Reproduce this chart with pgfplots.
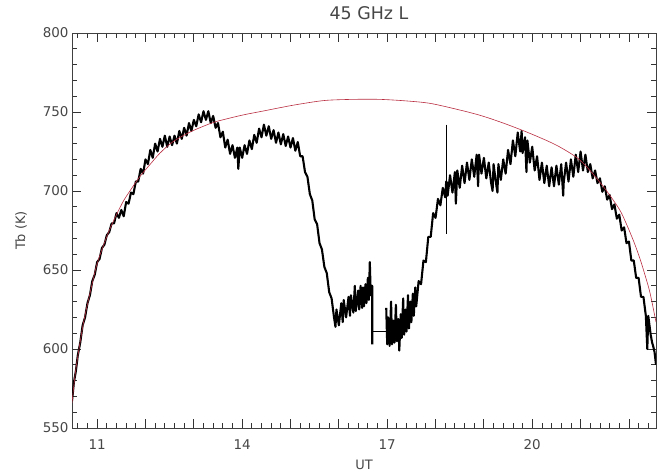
\documentclass[border=0pt]{standalone}
\usepackage{fontspec}
\setmainfont{DejaVu Sans}
\usepackage{pgfplots}
\pgfplotsset{compat=1.18}
\definecolor{fitred}{RGB}{185,45,65}
\definecolor{txt}{RGB}{70,70,70}
\begin{document}
\begin{tikzpicture}
\useasboundingbox (-72bp,-46bp) rectangle (587bp,428bp);
\begin{axis}[
  at={(0,0)}, anchor=south west,
  scale only axis, width=584bp, height=395bp,
  xmin=10.48, xmax=22.56, ymin=550, ymax=800,
  xtick={11,12,13,14,15,16,17,18,19,20,21,22},
  xticklabels={11,,,14,,,17,,,20,,},
  minor xtick={10.6,10.8,11.2,11.4,11.6,11.8,12.2,12.4,12.6,12.8,13.2,13.4,13.6,13.8,14.2,14.4,14.6,14.8,15.2,15.4,15.6,15.8,16.2,16.4,16.6,16.8,17.2,17.4,17.6,17.8,18.2,18.4,18.6,18.8,19.2,19.4,19.6,19.8,20.2,20.4,20.6,20.8,21.2,21.4,21.6,21.8,22.2,22.4},
  ytick={550,600,650,700,750,800},
  minor ytick={560,570,580,590,610,620,630,640,660,670,680,690,710,720,730,740,760,770,780,790},
  tick align=inside,
  major tick length=9bp, minor tick length=5bp,
  axis line style={black!75, line width=0.8bp},
  tick style={black!80, line width=0.8bp},
  /pgf/number format/assume math mode=true,
  tick label style={font=\fontsize{13.5}{16}\selectfont, text=txt},
  xticklabel style={yshift=-8bp},
  title={45 GHz L},
  title style={at={(axis description cs:0.5,1)}, anchor=center, yshift=14bp, xshift=5bp, font=\fontsize{17.5}{19}\selectfont, text=txt},
  xlabel={UT},
  xlabel style={at={(axis description cs:0.5,-0.094)}, anchor=center, font=\fontsize{13}{15}\selectfont, text=txt},
  ylabel={Tb (K)},
  ylabel style={at={(axis description cs:-0.0873,0.5)}, anchor=center, font=\fontsize{13}{15}\selectfont, text=txt},
]
% observed brightness temperature (noisy)
\addplot[black, line width=2.1pt, line join=round, mark=none] coordinates {
(10.48,567)(10.52,579)(10.56,586)(10.60,596)(10.65,604)(10.70,615)(10.75,620)(10.80,629)(10.85,634)(10.90,643)
(10.95,647)(11.00,655)(11.05,657)(11.10,664)(11.15,666)(11.20,672)(11.25,674)(11.30,679.5)(11.35,679.5)(11.40,686)
(11.45,683)(11.50,688)(11.55,684)(11.60,693)(11.65,692)(11.70,699)(11.75,698)(11.80,706)(11.85,706)(11.90,714)
(11.95,711)(12.00,720)(12.05,717)(12.10,726)(12.15,721)(12.20,730)(12.25,725)(12.30,733)(12.35,728)(12.40,735)
(12.45,728)(12.50,734.5)(12.55,729)(12.60,735)(12.65,730)(12.70,738)(12.75,733)(12.80,740)(12.85,735)(12.90,743)
(12.95,738)(13.00,745)(13.05,741)(13.10,748.5)(13.15,743.5)(13.20,750.5)(13.25,745)(13.30,750.5)(13.35,743)(13.40,747.5)
(13.45,740)(13.50,743)(13.55,734)(13.60,737.5)(13.65,727.5)(13.70,732.5)(13.75,723.5)(13.80,729)(13.85,721)(13.90,727.5)
(13.92,714)(13.95,727.5)(14.00,721)(14.05,729)(14.10,723.5)(14.15,732)(14.20,726.5)(14.25,735.5)(14.30,730.5)(14.35,739.5)
(14.40,734)(14.45,742)(14.50,735)(14.55,741)(14.60,733)(14.65,738.5)(14.70,730.5)(14.75,737)(14.80,729.5)(14.85,736)
(14.90,728.5)(14.95,734.5)(15.00,727.5)(15.05,733.5)(15.10,725.5)(15.15,731)(15.20,722)(15.25,722)(15.30,712)(15.35,709)
(15.40,698)(15.45,694)(15.50,682)(15.55,679)(15.60,667)(15.65,663)(15.70,652)(15.75,648)(15.80,636)(15.85,632)
(15.90,620)(15.93,614)(15.95,625)(16.00,615)(16.05,629)(16.08,617)(16.10,631)(16.15,620)(16.20,633)(16.23,621)
(16.25,634)(16.30,623)(16.33,640)(16.35,624)(16.40,637)(16.42,625)(16.45,640)(16.48,626)(16.50,639)(16.52,627)
(16.55,641)(16.57,629)(16.60,645)(16.62,631)(16.64,655)(16.66,634)(16.69,640)(16.69,603)
};
\addplot[black, line width=0.8pt, mark=none] coordinates {(16.69,611)(16.98,611)};
\addplot[black, line width=2.1pt, line join=round, mark=none] coordinates {
(16.98,626)(17.00,603)(17.02,620)(17.05,602)(17.08,630)(17.10,603)(17.13,618)(17.15,604)(17.18,628)(17.20,605)
(17.23,619)(17.25,599)(17.28,622)(17.30,607)(17.33,632)(17.35,609)(17.38,625)(17.40,611)(17.43,634)(17.45,613)
(17.48,630)(17.50,617)(17.53,635)(17.55,621)(17.58,639)(17.60,627)(17.65,643)(17.70,641)(17.75,656)(17.80,655)
(17.85,671)(17.90,671)(17.95,686)(18.00,683)(18.05,695)(18.10,691)(18.15,702)(18.20,696)(18.22,706)
(18.24,705)(18.25,697)(18.30,710)(18.35,699)(18.40,712)(18.42,692)(18.45,713)(18.50,702)(18.55,716)
(18.60,705)(18.65,718)(18.70,707)(18.75,720)(18.80,709)(18.85,723)(18.88,703)(18.90,723)(18.95,711)(19.00,721)
(19.05,708)(19.10,718)(19.15,705)(19.18,700)(19.20,717)(19.25,705)(19.28,699)(19.30,717)(19.35,707)(19.40,720)
(19.45,711)(19.50,726)(19.55,717)(19.60,732)(19.65,722)(19.70,737)(19.75,725)(19.78,738)(19.80,724)(19.85,734)
(19.88,712)(19.90,732)(19.95,718)(20.00,728)(20.05,713)(20.10,722)(20.15,707)(20.20,718)(20.25,705)(20.30,716)
(20.35,703)(20.40,715)(20.45,703)(20.50,716)(20.55,704)(20.60,717)(20.64,697)(20.65,705)(20.70,718)(20.75,706)
(20.80,720)(20.85,709)(20.90,723)(20.95,712)(21.00,725)(21.05,713)(21.10,723)(21.15,712)(21.20,717)(21.25,708)
(21.30,713)(21.35,705)(21.40,708)(21.45,699.5)(21.50,703)(21.55,694.5)(21.60,697.5)(21.65,688.5)(21.70,691.5)(21.75,682.5)
(21.80,685)(21.85,675)(21.90,677)(21.95,667)(22.00,668)(22.05,656)(22.10,656)(22.15,645)(22.20,645)(22.25,633)
(22.30,633)(22.35,621)(22.38,600)(22.40,621)(22.45,609)(22.48,604)(22.50,602)(22.53,598)(22.56,590)
};
% spike near 18.2 UT
\addplot[black, line width=1pt, mark=none] coordinates {(18.23,742)(18.23,673)};
% model curve
\addplot[fitred, line width=0.6pt, smooth, mark=none] coordinates {
(10.48,566)(10.55,585)(10.63,601)(10.72,617)(10.82,631)(10.91,643)(10.99,653)(11.10,663)(11.25,675)(11.40,685)
(11.55,694)(11.70,701)(11.88,709)(12.10,717)(12.30,724)(12.56,731)(12.90,737)(13.20,741)(13.47,744)(14.00,748)
(14.50,751)(15.00,754)(15.50,756.5)(15.80,757.5)(16.30,758)(16.84,758)(17.40,757)(17.88,755.5)(18.40,752)(18.91,748)
(19.40,743)(19.95,736.5)(20.50,729)(20.95,720.5)(21.25,711)(21.54,700)(21.81,688)(21.95,679)(22.10,668)(22.23,657)
(22.35,645)(22.44,635)(22.56,617)
};
\end{axis}
\end{tikzpicture}
\end{document}
